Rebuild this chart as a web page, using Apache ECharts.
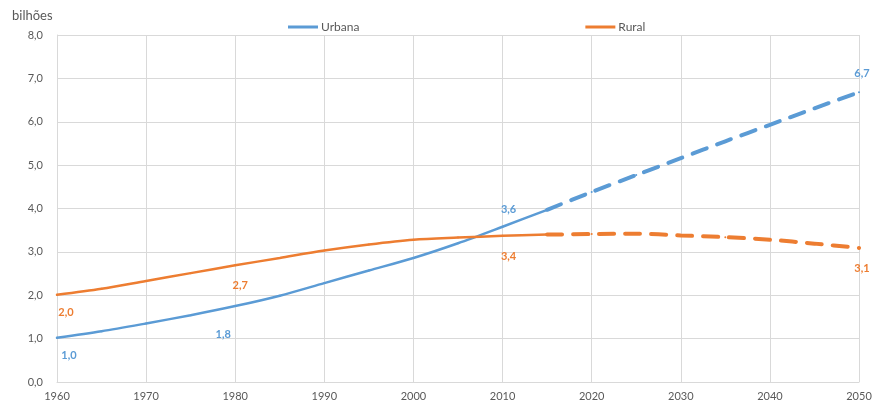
<!DOCTYPE html>
<html>
<head>
<meta charset="utf-8">
<script src="https://cdn.jsdelivr.net/npm/echarts@6/dist/echarts.min.js"></script>
<style>
  html, body { margin: 0; padding: 0; background: #fff; }
  #chart { width: 880px; height: 406px; }
</style>
</head>
<body>
<div id="chart"></div>
<script>
// anos observados e projetados
const years = [1960, 1965, 1970, 1975, 1980, 1985, 1990, 1995, 2000, 2005, 2010, 2015];
const projYears = [2015, 2020, 2025, 2030, 2035, 2040, 2045, 2050];

// população (bilhões)
const urbana = [1.02, 1.17, 1.35, 1.54, 1.75, 1.99, 2.28, 2.57, 2.86, 3.20, 3.58, 3.97];
const rural = [2.01, 2.15, 2.33, 2.51, 2.69, 2.86, 3.03, 3.17, 3.28, 3.33, 3.37, 3.40];
const urbanaProj = [3.97, 4.38, 4.77, 5.16, 5.55, 5.93, 6.31, 6.68];
const ruralProj = [3.40, 3.41, 3.42, 3.38, 3.34, 3.28, 3.19, 3.09];

// anos com rótulo de valor
const labelYears = [1960, 1980, 2010];
const projLabelYears = [2050];

const BLUE = '#5B9BD5';
const ORANGE = '#ED7D31';
const FONT = 'Lato';

const fmt = v => v.toFixed(1).replace('.', ',');

// posições dos rótulos
const labelPos = {
  urbana: {
    1960: {position: 'bottom', offset: [12, 6]},
    1980: {position: 'bottom', offset: [-12, 17]},
    2010: {position: 'top', offset: [6, -6]},
    2050: {position: 'top', offset: [3, -7]}
  },
  rural: {
    1960: {position: 'bottom', offset: [9, 6]},
    1980: {position: 'bottom', offset: [5, 9]},
    2010: {position: 'bottom', offset: [6, 9]},
    2050: {position: 'bottom', offset: [3, 9]}
  }
};

const buildData = (xs, ys, withLabel, key, color) =>
  xs.map((x, i) => {
    const item = {value: [x, ys[i]]};
    if (withLabel.includes(x)) {
      const pos = labelPos[key][x];
      item.label = {
        show: true,
        position: pos.position,
        offset: pos.offset,
        color: color,
        fontWeight: 'bold',
        fontSize: 11,
        fontFamily: FONT,
        formatter: p => fmt(p.value[1])
      };
    }
    return item;
  });

const chart = echarts.init(document.getElementById('chart'));

const lineSeries = (name, data, color, width, type) => ({
  name: name,
  type: 'line',
  data: data,
  symbol: 'circle',
  symbolSize: 2,
  showSymbol: true,
  smooth: 0.3,
  lineStyle: {color: color, width: width, type: type, cap: 'round'},
  itemStyle: {color: color},
  emphasis: {disabled: true},
  z: type === 'solid' ? 3 : 2
});

chart.setOption({
  animation: false,
  textStyle: {fontFamily: FONT},
  title: {
    text: 'bilhões',
    left: 7,
    top: 4,
    textStyle: {fontSize: 13, fontWeight: 'normal', color: '#595959', fontFamily: FONT}
  },
  legend: {
    data: [
      {name: 'Urbana', icon: 'rect', itemStyle: {color: BLUE}},
      {name: 'Rural', icon: 'rect', itemStyle: {color: ORANGE}}
    ],
    left: 283,
    top: 16,
    itemWidth: 30,
    itemHeight: 3,
    itemGap: 226,
    textStyle: {fontSize: 12, color: '#595959', fontFamily: FONT, padding: [0, 0, 0, -2]}
  },
  grid: {left: 57, right: 21, top: 35, bottom: 24},
  xAxis: {
    type: 'value',
    min: 1960,
    max: 2050,
    interval: 10,
    axisLine: {show: true, lineStyle: {color: '#d9d9d9'}},
    axisTick: {show: false},
    axisLabel: {color: '#595959', fontSize: 11, margin: 9, fontFamily: FONT, formatter: v => String(v)},
    splitLine: {show: true, lineStyle: {color: '#d9d9d9'}}
  },
  yAxis: {
    type: 'value',
    min: 0,
    max: 8,
    interval: 1,
    axisLine: {show: true, lineStyle: {color: '#d9d9d9'}},
    axisTick: {show: false},
    axisLabel: {color: '#595959', fontSize: 11, margin: 14, formatter: fmt, fontFamily: FONT},
    splitLine: {show: true, lineStyle: {color: '#d9d9d9'}}
  },
  series: [
    lineSeries('Urbana', buildData(years, urbana, labelYears, 'urbana', BLUE), BLUE, 2.5, 'solid'),
    lineSeries('Rural', buildData(years, rural, labelYears, 'rural', ORANGE), ORANGE, 2.5, 'solid'),
    lineSeries('Urbana', buildData(projYears, urbanaProj, projLabelYears, 'urbana', BLUE), BLUE, 4, [15, 11]),
    lineSeries('Rural', buildData(projYears, ruralProj, projLabelYears, 'rural', ORANGE), ORANGE, 4, [15, 11])
  ]
});

window.addEventListener('resize', () => chart.resize());
</script>
</body>
</html>
